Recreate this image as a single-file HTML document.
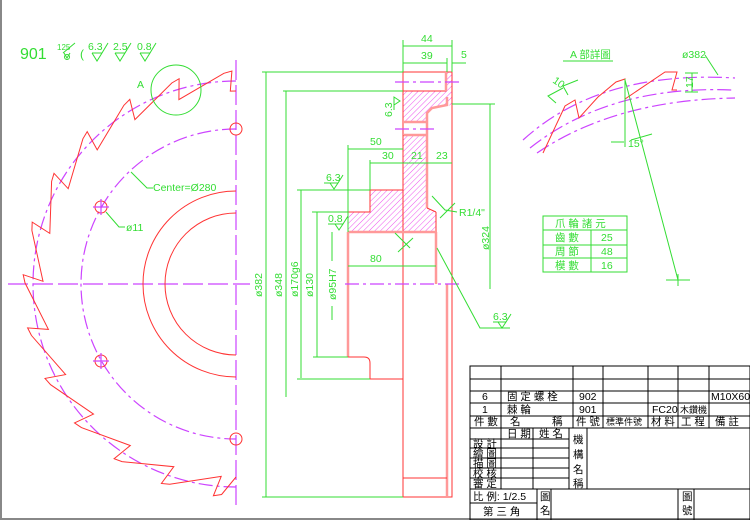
<!DOCTYPE html>
<html><head><meta charset="utf-8"><style>
html,body{margin:0;padding:0;background:#fff;}
svg{display:block;}
text{font-family:"Liberation Sans","Noto Sans CJK TC",sans-serif;}
.g{stroke:#3d3;fill:none;stroke-width:1}
.gt{fill:#3d3;font-size:10.5px}
.r{stroke:#f33;fill:none;stroke-width:1}
.p{stroke:#f99;fill:none;stroke-width:2.5}
.m{stroke:#c4f;fill:none;stroke-width:1.2;stroke-dasharray:14 4 3 4}
.k{stroke:#000;fill:none;stroke-width:1}
.kt{fill:#000;font-size:10.5px}
</style></head><body>
<svg id="s" width="750" height="520" viewBox="0 0 750 520" xmlns="http://www.w3.org/2000/svg">
<defs>
<pattern id="h" width="4" height="4" patternUnits="userSpaceOnUse" patternTransform="rotate(45)">
<rect width="4" height="4" fill="#fff"/>
<line x1="0" y1="0" x2="0" y2="4" stroke="#e5e" stroke-width="1"/>
</pattern>
</defs>
<rect x="0" y="0" width="2" height="520" fill="#888"/>
<rect x="0" y="518" width="750" height="2" fill="#888"/>

<!-- top-left note -->
<text x="20" y="59" class="gt" style="font-size:16px">901</text>
<text x="57" y="50" class="gt" style="font-size:8px">125</text>
<path class="g" d="M63 53 L75 43 M64 53 l3 5 l3 -5"/><circle cx="67" cy="57" r="2.5" class="g"/>
<text x="80" y="58" class="gt" style="font-size:12px">(</text>
<text x="88" y="50" class="gt">6.3</text><path class="g" d="M92 53 l5 8 l5 -8 h-10 M102 53 L108 43"/>
<text x="113" y="50" class="gt">2.5</text><path class="g" d="M115 53 l5 8 l5 -8 h-10 M125 53 L131 43"/>
<text x="137" y="50" class="gt">0.8</text><path class="g" d="M140 53 l5 8 l5 -8 h-10 M150 53 L156 43"/>

<!-- left view -->
<line x1="8" y1="284" x2="250" y2="284" class="m" style="stroke-dasharray:20 5"/>
<line x1="236" y1="60" x2="236" y2="508" class="m" style="stroke-dasharray:20 5"/>
<path class="m" d="M236 81 A203 203 0 0 0 236 487"/>
<path class="m" d="M236 129 A155 155 0 0 0 236 439"/>
<circle cx="236" cy="129" r="6" class="r"/><circle cx="236" cy="439" r="6" class="r"/>
<circle cx="101" cy="207" r="6" class="r"/><circle cx="101" cy="361" r="6" class="r"/>
<path class="m" style="stroke-dasharray:none" d="M93 207 h16 M101 199 v16 M93 361 h16 M101 353 v16"/>
<path class="r" d="M236 191 A93 93 0 0 0 236 377"/>
<path class="r" d="M236 213 A71 71 0 0 0 236 355"/>
<path id="teeth" class="r" d=""/>
<circle cx="176" cy="90" r="25" class="g"/>
<text x="137" y="88" class="gt">A</text>
<path class="g" d="M131 172 L147 188 H153"/>
<text x="153" y="191" class="gt">Center=Ø280</text>
<path class="g" d="M106 212 L119 227 H125"/>
<text x="126" y="231" class="gt">ø11</text>

<!-- section view -->
<path fill="url(#h)" stroke="none" d="M403 91 H446 V72 H452 V105 L432 108 L427 113 V122 H403 Z"/>
<path fill="url(#h)" stroke="none" d="M403 135 H427 V208 L436 212 V232 H348 V212 H370 V190 H403 Z"/>
<path class="r" d="M403 72 H452 V497 H403 Z"/>
<path class="r" d="M403 91 H446 V72"/>
<path class="p" d="M446 72 V91 M447 97 V105 L432 108 L427 113 V122 H403 M403 135 H427 V208 M427 122 V135"/>
<path class="r" d="M403 135 V190 H370 V212 H348 V232 M436 212 V232"/>
<path class="p" d="M348 232 H436 M348 232 V357 M436 232 V284 M447 284 V497"/>
<path class="r" d="M427 208 L436 212"/>
<path class="r" d="M348 357 H364 Q370 357 370 363 V379 H403 M403 478 H447"/>
<line x1="395" y1="82" x2="462" y2="82" class="m"/>
<line x1="395" y1="129" x2="437" y2="129" class="m"/>
<line x1="345" y1="284" x2="462" y2="284" class="m"/>
<!-- dims -->
<path class="g" d="M403 40 V72 M452 40 V72 M403 46 H452 M403 63 H447 M447 58 V72 M452 63 H466"/>
<text x="421" y="42" class="gt">44</text><text x="421" y="59" class="gt">39</text><text x="461" y="58" class="gt">5</text>
<path class="g" d="M262 72 H403 M262 497 H403 M266 72 V497 M283 91 H403 M286 91 V397 M297 190 H370 M301 190 V378 M297 379 H370 M312 212 H348 M317 212 V357 M313 357 H348 M332 232 V261 M332 306 V320"/>
<path class="g" d="M348 145 V232 M348 149 H403 M370 160 V190 M370 163 H452 M452 104 H495 M490 104 V289 M348 266 H436"/>
<text x="370" y="145" class="gt">50</text><text x="382" y="159" class="gt">30</text><text x="411" y="159" class="gt">21</text><text x="436" y="159" class="gt">23</text><text x="370" y="262" class="gt">80</text>
<text transform="translate(262,297) rotate(-90)" class="gt">ø382</text>
<text transform="translate(282,297) rotate(-90)" class="gt">ø348</text>
<text transform="translate(298,297) rotate(-90)" class="gt">ø170g6</text>
<text transform="translate(313,297) rotate(-90)" class="gt">ø130</text>
<text transform="translate(336,300) rotate(-90)" class="gt">ø95H7</text>
<text transform="translate(489,250) rotate(-90)" class="gt">ø324</text>
<path class="g" d="M432 196 L445 210 L457 212 M455 203 L440 218 M395 233 L410 248 M413 238 L398 252 M437 248 L480 328 H510"/>
<text x="459" y="216" class="gt">R1/4"</text>
<text x="326" y="181" class="gt">6.3</text><path class="g" d="M324 183 H338 l-4 6 l-4 -6 M338 183 L343 175"/>
<text x="328" y="222" class="gt">0.8</text><path class="g" d="M328 224 H343 l-4 6 l-4 -6 M343 224 L348 216"/>
<text x="493" y="320" class="gt">6.3</text><path class="g" d="M493 322 H506 l-4 6 l-4 -6 M506 322 L511 314"/>
<text transform="translate(392,117) rotate(-90)" class="gt">6.3</text><path class="g" d="M394 110 V97 l6 4 l-6 4"/>

<!-- detail A -->
<text x="570" y="58" class="gt">A 部詳圖</text><path class="g" d="M563 61 H613"/>
<text x="682" y="58" class="gt">ø382</text><path class="g" d="M705 55 L718 75"/>
<path class="m" d="M523 140 Q600 70 735 78"/>
<path class="m" d="M530 148 Q610 85 732 90"/>
<path class="m" d="M537 153 Q615 100 735 98"/>
<path class="r" d="M543 153 L565 106 L575 100 L579 118 L598 97 L616 82 L625 79 L625 99 L665 72 L677 72 L672 90 L677 90"/>
<path class="g" d="M556 103 L548 96 L563 88 M568 95 L563 86 L578 80 M625 79 V147 M625 80 L678 280 M666 280 H690 M678 274 V286 M611 142 H624 M631 140 L652 134 M685 73 H698 M685 92 H698 M692 73 V92"/>
<text x="552" y="82" class="gt" transform="rotate(35 552 82)">10</text>
<text x="628" y="147" class="gt">15°</text>
<text transform="translate(693,88) rotate(-90)" class="gt">17</text>
<g class="g"><rect x="543" y="216" width="84" height="56"/><path d="M543 230 H627 M543 245 H627 M543 258 H627 M591 230 V272"/></g>
<text x="555" y="227" class="gt">爪 輪 諸 元</text>
<text x="555" y="241" class="gt">齒 數</text><text x="601" y="241" class="gt">25</text>
<text x="555" y="255" class="gt">周 節</text><text x="601" y="255" class="gt">48</text>
<text x="555" y="269" class="gt">模 數</text><text x="601" y="269" class="gt">16</text>

<!-- title block -->
<g class="k">
<rect x="470" y="366" width="280" height="154"/>
<path d="M470 379 H750 M470 391 H750 M470 403 H750 M470 416 H750 M470 428 H750 M470 489 H750"/>
<path d="M501 366 V489 M573 366 V428 M603 366 V428 M648 366 V428 M678 366 V428 M709 366 V428"/>
<path d="M470 439 H569 M470 448 H569 M470 458 H569 M470 468 H569 M470 478 H569 M533 428 V489 M569 428 V489 M587 428 V489"/>
<path d="M470 503 H537 M537 489 V520 M551 489 V520 M678 489 V520 M694 489 V520"/>
</g>
<g class="kt">
<text x="482" y="400">6</text><text x="507" y="400">固 定 螺 栓</text><text x="579" y="400">902</text><text x="711" y="400">M10X60</text>
<text x="482" y="413">1</text><text x="507" y="413">棘 輪</text><text x="579" y="413">901</text><text x="652" y="413">FC20</text><text x="680" y="413" style="font-size:9px">木鑽機</text>
<text x="474" y="425">件 數</text><text x="510" y="425">名　　　稱</text><text x="576" y="425">件 號</text><text x="606" y="425" style="font-size:9px">標準件號</text><text x="651" y="425">材 料</text><text x="681" y="425">工 程</text><text x="715" y="425">備 註</text>
<text x="507" y="437">日 期</text><text x="539" y="437">姓 名</text>
<text x="473" y="447">設 計</text><text x="473" y="457">繪 圖</text><text x="473" y="467">描 圖</text><text x="473" y="477">校 核</text><text x="473" y="487">審 定</text>
<text x="573" y="443">機</text><text x="573" y="458">構</text><text x="573" y="473">名</text><text x="573" y="487">稱</text>
<text x="473" y="500">比 例: 1/2.5</text><text x="483" y="515">第 三 角</text>
<text x="540" y="500">圖</text><text x="540" y="514">名</text>
<text x="682" y="500">圖</text><text x="682" y="514">號</text>
</g>
</svg>
<script>
(function(){
var cx=236,cy=284;
function P(phi,R){var a=phi*Math.PI/180;return (cx-R*Math.sin(a)).toFixed(1)+' '+(cy-R*Math.cos(a)).toFixed(1);}
var d='M236 91 L'+P(1.7,193);
for(var a=1.1;a<180;a+=14.4){
 d+=' L'+P(a,213)+' L'+P(Math.min(a+2.2,180),211);
 var r=Math.min(a+16.1,180);
 d+=' L'+P(r,193);
}
d+=' L236 477';
document.getElementById('teeth').setAttribute('d',d);
})();
</script>
</body></html>
